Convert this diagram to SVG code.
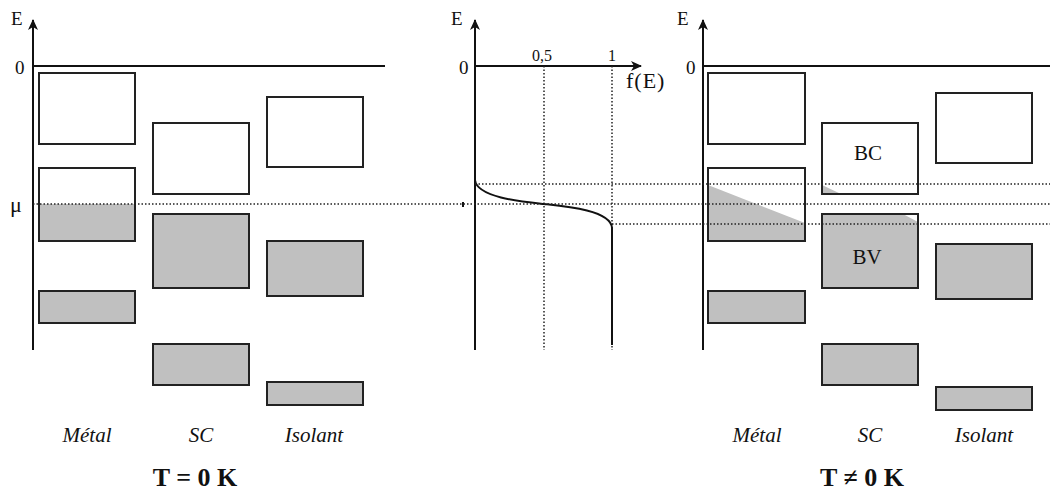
<svg xmlns="http://www.w3.org/2000/svg" width="1050" height="494" viewBox="0 0 1050 494">
<defs>
<style>
.ax{stroke:#111;stroke-width:2;fill:none}
.box{stroke:#222;stroke-width:2;fill:#fff}
.fill{stroke:#222;stroke-width:2;fill:#c0c0c0}
.shade{fill:#c0c0c0;stroke:none}
.dot{stroke:#222;stroke-width:1.5;stroke-dasharray:1.5 2;fill:none}
.t{font-family:"Liberation Serif","Times New Roman",serif;fill:#111}
.lab{font-family:"Liberation Serif","Times New Roman",serif;font-style:italic;font-size:21px;fill:#111;text-anchor:middle}
.title{font-family:"Liberation Serif","Times New Roman",serif;font-weight:bold;font-size:26px;fill:#111;text-anchor:middle}
</style>
<marker id="arr" markerWidth="12" markerHeight="12" refX="10" refY="5" orient="auto" markerUnits="userSpaceOnUse">
<path d="M0,0 L11,5 L0,10 L3,5 Z" fill="#111"/>
</marker>
</defs>
<rect width="1050" height="494" fill="#fff"/>

<g id="left-panel">
<g id="left-axes">
<line class="ax" x1="33" y1="350" x2="33" y2="20" marker-end="url(#arr)"/>
<line class="ax" x1="33" y1="66" x2="385" y2="66"/>
<text class="t" x="11" y="25" font-size="19">E</text>
<text class="t" x="15" y="74" font-size="19">0</text>
<text class="t" x="10" y="212" font-size="22">μ</text>
</g>
<g id="left-metal">
<rect class="box" x="39" y="73" width="96" height="71"/>
<rect class="shade" x="39" y="204" width="96" height="37"/>
<rect class="box" x="39" y="168" width="96" height="73" style="fill:none"/>
<rect class="fill" x="39" y="291" width="96" height="32"/>
</g>
<g id="left-sc">
<rect class="box" x="153" y="123" width="96" height="71"/>
<rect class="fill" x="153" y="214" width="96" height="74"/>
<rect class="fill" x="153" y="344" width="96" height="41"/>
</g>
<g id="left-isolant">
<rect class="box" x="267" y="97" width="96" height="70"/>
<rect class="fill" x="267" y="241" width="96" height="55"/>
<rect class="fill" x="267" y="382" width="96" height="23"/>
</g>
<g id="left-labels">
<text class="lab" x="87" y="442">Métal</text>
<text class="lab" x="201" y="442">SC</text>
<text class="lab" x="314" y="442">Isolant</text>
<text class="title" x="195" y="486">T = 0 K</text>
</g>
</g>

<g id="middle-panel">
<line class="ax" x1="475" y1="350" x2="475" y2="20" marker-end="url(#arr)"/>
<line class="ax" x1="475" y1="66" x2="641" y2="66" marker-end="url(#arr)"/>
<text class="t" x="451" y="25" font-size="19">E</text>
<text class="t" x="459" y="74" font-size="19">0</text>
<text class="t" x="532" y="61" font-size="16">0,5</text>
<text class="t" x="608" y="61" font-size="16">1</text>
<text class="t" x="626" y="88" font-size="22" letter-spacing="1">f(E)</text>
<line class="dot" x1="544" y1="66" x2="544" y2="350"/>
<line class="dot" x1="612" y1="66" x2="612" y2="350"/>
<path class="ax" d="M475,180 C477,198 525,202 544,204 C563,206 611,210 612,228 L612,345"/>
<line x1="463" y1="202" x2="463" y2="207" stroke="#111" stroke-width="2"/>
</g>

<g id="right-panel">
<g id="right-axes">
<line class="ax" x1="703" y1="350" x2="703" y2="20" marker-end="url(#arr)"/>
<line class="ax" x1="703" y1="66" x2="1050" y2="66"/>
<text class="t" x="677" y="25" font-size="19">E</text>
<text class="t" x="686" y="74" font-size="19">0</text>
</g>
<g id="right-metal">
<rect class="box" x="708" y="73" width="97" height="71"/>
<rect class="box" x="708" y="168" width="97" height="73"/>
<polygon class="shade" points="708,185 805,223 805,241 708,241"/>
<rect class="box" x="708" y="168" width="97" height="73" style="fill:none"/>
<rect class="fill" x="708" y="291" width="97" height="32"/>
</g>
<g id="right-sc">
<rect class="box" x="822" y="123" width="96" height="71"/>
<polygon class="shade" points="822,185 841,194 822,194"/>
<rect class="box" x="822" y="123" width="96" height="71" style="fill:none"/>
<text class="t" x="868" y="160" font-size="21" text-anchor="middle">BC</text>
<rect class="fill" x="822" y="214" width="96" height="74"/>
<polygon points="903,214 918,214 918,222" fill="#fff"/>
<rect class="box" x="822" y="214" width="96" height="74" style="fill:none"/>
<text class="t" x="867" y="264" font-size="21" text-anchor="middle">BV</text>
<rect class="fill" x="822" y="344" width="96" height="41"/>
</g>
<g id="right-isolant">
<rect class="box" x="936" y="93" width="96" height="70"/>
<rect class="fill" x="936" y="244" width="96" height="55"/>
<rect class="fill" x="936" y="387" width="96" height="23"/>
</g>
<g id="right-labels">
<text class="lab" x="757" y="442">Métal</text>
<text class="lab" x="870" y="442">SC</text>
<text class="lab" x="984" y="442">Isolant</text>
<text class="title" x="862" y="486">T ≠ 0 K</text>
</g>
</g>

<g id="connectors">
<line class="dot" x1="33" y1="204" x2="1050" y2="204"/>
<line class="dot" x1="475" y1="184" x2="1050" y2="184"/>
<line class="dot" x1="612" y1="224" x2="1050" y2="224"/>
</g>
</svg>
